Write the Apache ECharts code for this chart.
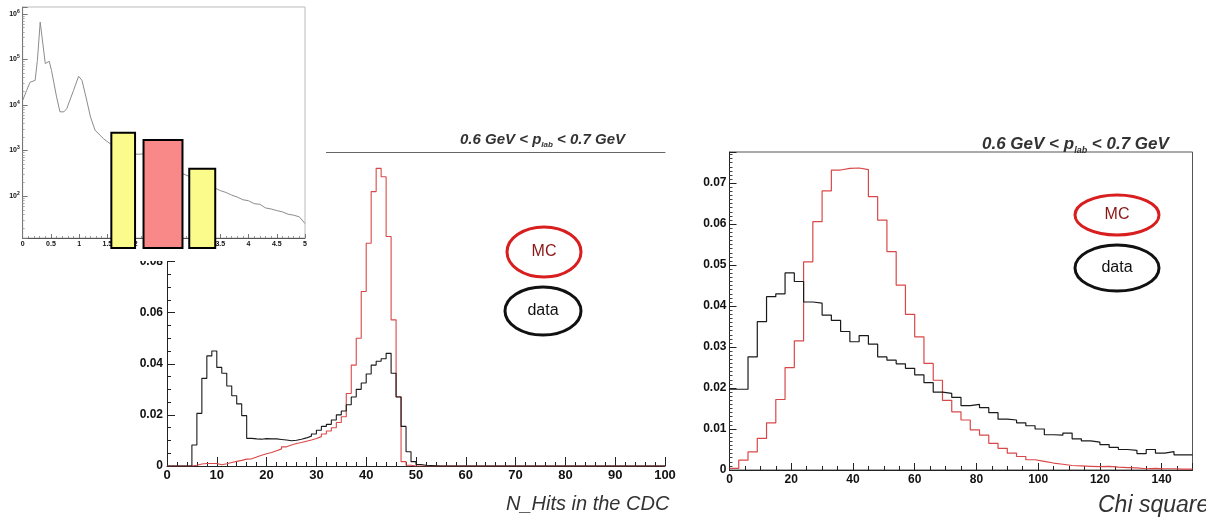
<!DOCTYPE html>
<html><head><meta charset="utf-8">
<script src="https://cdn.jsdelivr.net/npm/echarts@6/dist/echarts.min.js"></script>
<style>html,body{margin:0;padding:0;background:#fff}#c{width:1206px;height:520px}</style>
</head><body><div id="c"></div><script>
// ---------- N_Hits in the CDC (bin width 1, 0..100) ----------
const nhitsBinWidth = 1;
const nhitsTicks = [0,10,20,30,40,50,60,70,80,90,100];
const nhitsData = [0,0,0,0,0,0.0082,0.0206,0.0343,0.0431,0.0450,
  0.0386,0.0363,0.0313,0.0275,0.0243,0.0197,0.0108,0.0106,0.0105,0.0107,
  0.0106,0.0106,0.0104,0.0102,0.0099,0.0101,0.0105,0.0110,0.0117,0.0125,
  0.0140,0.0155,0.0163,0.0180,0.0200,0.0215,0.0240,0.0270,0.0300,0.0325,
  0.0360,0.0395,0.0410,0.0420,0.0441,0.0363,0.0270,0.0155,0.0056,0.0017,
  0.0006,0.0003,0.0002,0.0001,0,0,0,0,0,0,
  0,0,0,0,0,0,0,0,0,0, 0,0,0,0,0,0,0,0,0,0,
  0,0,0,0,0,0,0,0,0,0, 0,0,0,0,0,0,0,0,0,0];
const nhitsMC = [0,0,0,0,0,0.0003,0.0008,0.0010,0.0010,0.0010,
  0.0005,0.0009,0.0014,0.0018,0.0022,0.0027,0.0028,0.0035,0.0042,0.0048,
  0.0053,0.0060,0.0067,0.0075,0.0082,0.0088,0.0092,0.0097,0.0102,0.0108,
  0.0115,0.0125,0.0137,0.0150,0.0170,0.0193,0.0284,0.0395,0.0500,0.0683,
  0.0872,0.1074,0.1165,0.1132,0.0898,0.0572,0.0271,0.0017,0.0003,0,
  0,0,0,0,0,0,0,0,0,0, 0,0,0,0,0,0,0,0,0,0,
  0,0,0,0,0,0,0,0,0,0, 0,0,0,0,0,0,0,0,0,0,
  0,0,0,0,0,0,0,0,0,0];

// ---------- Chi square (bin width 3, 0..150) ----------
const chiBinWidth = 3;
const chiTicks = [0,20,40,60,80,100,120,140];
const chiMC = [0.0004,0.0024,0.0044,0.0077,0.0115,0.0172,0.0250,0.0315,0.0508,0.0606,
  0.0681,0.0732,0.0736,0.0737,0.0733,0.0667,0.0610,0.0533,0.0451,0.0380,
  0.0325,0.0260,0.0219,0.0170,0.0142,0.0122,0.0098,0.0085,0.0065,0.0053,
  0.0041,0.0033,0.0025,0.0021,0.0017,0.0014,0.0011,0.0010,0.0009,0.0008,
  0.0009,0.0007,0.0006,0.0005,0.0003,0.0004,0.0003,0.0003,0.0002,0.0002];
const chiData = [0.0197,0.0197,0.0276,0.0362,0.0423,0.0430,0.0481,0.0460,0.0410,0.0407,
  0.0378,0.0365,0.0338,0.0313,0.0328,0.0307,0.0276,0.0268,0.0259,0.0248,
  0.0232,0.0213,0.0190,0.0187,0.0177,0.0157,0.0160,0.0152,0.0140,0.0124,
  0.0122,0.0115,0.0108,0.0100,0.0086,0.0085,0.0090,0.0076,0.0071,0.0068,
  0.0062,0.0055,0.0050,0.0048,0.0040,0.0050,0.0041,0.0045,0.0037,0.0037];

// ---------- Inset spectrum (log scale) ----------
const insetX = [0,0.07,0.13,0.22,0.26,0.31,0.34,0.40,0.47,0.51,0.60,0.66,0.73,0.78,0.90,0.99,1.05,1.12,1.20,1.28,
  1.43,1.58,1.73,1.91,2.08,2.29,2.44,2.56,2.67,2.82,3.03,3.27,3.4,3.5,3.6,3.7,3.8,3.9,4.0,4.1,
  4.2,4.3,4.4,4.5,4.6,4.7,4.8,4.9,5.0];
const insetY = [12600,20900,31600,34700,95500,661000,603000,81300,91200,57500,15100,7080,7080,8300,20900,42700,34700,15100,5500,2820,
  1820,1320,1020,832,832,891,933,794,437,316,245,174,151,132,120,105,95,83,79,68,
  66,55,52,48,45,40,38,35,25];
const bandX0 = [1.57, 2.14, 2.95];
const bandX1 = [1.99, 2.83, 3.41];
const bandTop = [2450, 1700, 400];
const insetTicks = [0,0.5,1,1.5,2,2.5,3,3.5,4,4.5,5];

function steps(values, width) {
  const pts = values.map((v, i) => [i * width, v]);
  pts.push([values.length * width, values[values.length - 1]]);
  return pts;
}

const FONT = "'Liberation Sans Narrow','Liberation Sans',Arial,sans-serif";
const lab = (size, extra) => Object.assign({fontFamily: FONT, fontWeight: 'bold', fontSize: size, color: '#111'}, extra || {});
const yFmt = v => v === 0 ? '0' : v.toFixed(2);
const insetYMin = 12;

const chart = echarts.init(document.getElementById('c'), null, {renderer: 'canvas'});
function titleRich(size) {
  return {
    a: {fontFamily: "'Liberation Sans',Arial,sans-serif", fontSize: size, fontWeight: 'bold', fontStyle: 'italic', color: '#333', lineHeight: size + 4},
    s: {fontFamily: "'Liberation Sans',Arial,sans-serif", fontSize: Math.round(size * 0.55), fontWeight: 'bold', fontStyle: 'italic', color: '#333', lineHeight: size + 4, padding: [size * 0.75, 0, 0, 0]}
  };
}
const titleText = '{a|0.6 GeV < p}{s|lab}{a| < 0.7 GeV}';
const axisTitleStyle = size => ({fontFamily: "'Liberation Sans',Arial,sans-serif", fontSize: size, fontStyle: 'italic', fontWeight: 'normal', color: '#333'});

chart.setOption({
  animation: false,
  backgroundColor: '#fff',
  title: [
    {text: titleText, left: 460, top: 130, padding: 0, textStyle: {rich: titleRich(15)}},
    {text: titleText, left: 982, top: 134, padding: 0, textStyle: {rich: titleRich(17)}},
    {text: 'N_Hits in the CDC', left: 506, top: 494, padding: 0, textStyle: axisTitleStyle(20)},
    {text: 'Chi square', left: 1098, top: 494, padding: 0, textStyle: axisTitleStyle(23)}
  ],
  grid: [
    {left: 167, top: 152, width: 498, height: 314, show: false},
    {left: 729.5, top: 152, width: 463, height: 318, show: true, borderColor: '#555', borderWidth: 1, backgroundColor: 'transparent'},
    {left: 22.7, top: 7, width: 282.3, height: 231, show: true, borderColor: '#bbb', borderWidth: 1, backgroundColor: '#fff', z: 21}
  ],
  xAxis: [
    {type: 'value', gridIndex: 0, min: 0, max: 100, interval: 10,
     axisLine: {lineStyle: {color: '#222', width: 1}}, splitLine: {show: false},
     axisTick: {inside: true, length: 9, lineStyle: {color: '#222'}},
     minorTick: {show: true, splitNumber: 5, length: 4, lineStyle: {color: '#222'}},
     axisLabel: Object.assign(lab(13), {margin: 3, customValues: nhitsTicks})},
    {type: 'value', gridIndex: 0, min: 0, max: 100, position: 'top',
     axisLine: {show: true, lineStyle: {color: '#666', width: 1}}, axisTick: {show: false}, axisLabel: {show: false}, splitLine: {show: false}},
    {type: 'value', gridIndex: 1, min: 0, max: 150, interval: 20,
     axisLine: {lineStyle: {color: '#222'}}, splitLine: {show: false},
     axisTick: {inside: true, length: 7, lineStyle: {color: '#222'}},
     minorTick: {show: true, splitNumber: 4, length: 4, lineStyle: {color: '#222'}},
     axisLabel: Object.assign(lab(12), {margin: 4, showMaxLabel: false})},
    {type: 'value', gridIndex: 2, min: 0, max: 5, interval: 0.5, z: 22,
     axisLine: {lineStyle: {color: '#555'}}, splitLine: {show: false},
     axisTick: {inside: true, length: 4, lineStyle: {color: '#777'}},
     minorTick: {show: true, splitNumber: 5, length: 2, lineStyle: {color: '#999'}},
     axisLabel: Object.assign(lab(7), {margin: 3})}
  ],
  yAxis: [
    {type: 'value', gridIndex: 0, min: 0, max: 0.1229, interval: 0.02,
     axisLine: {show: true, lineStyle: {color: '#222'}}, splitLine: {show: false},
     axisTick: {show: true, inside: true, length: 8, lineStyle: {color: '#222'}},
     minorTick: {show: true, splitNumber: 4, length: 4, lineStyle: {color: '#222'}},
     axisLabel: Object.assign(lab(12), {margin: 4, formatter: yFmt, showMaxLabel: false})},
    {type: 'value', gridIndex: 1, min: 0, max: 0.0776, interval: 0.01,
     axisLine: {show: true, lineStyle: {color: '#222'}}, splitLine: {show: false},
     axisTick: {show: true, inside: true, length: 7, lineStyle: {color: '#222'}},
     minorTick: {show: true, splitNumber: 10, length: 3, lineStyle: {color: '#444'}},
     axisLabel: Object.assign(lab(12), {margin: 3, formatter: yFmt, showMaxLabel: false})},
    {type: 'log', logBase: 10, gridIndex: 2, min: insetYMin, max: 1.42e6, z: 22,
     axisLine: {show: true, lineStyle: {color: '#777'}}, splitLine: {show: false},
     axisTick: {show: true, inside: true, length: 5, lineStyle: {color: '#777'}},
     minorTick: {show: true, splitNumber: 9, length: 2, lineStyle: {color: '#aaa'}},
     axisLabel: {margin: 3, showMinLabel: false, showMaxLabel: false,
       formatter: v => '{b|10}{s|' + Math.round(Math.log10(v)) + '}',
       rich: {b: lab(7), s: lab(5, {padding: [0, 0, 5, 0]})}}}
  ],
  graphic: {elements: [
    {type: 'rect', shape: {x: 0, y: 0, width: 326, height: 261}, style: {fill: '#fff'}, z: 20, silent: true},
    {type: 'ellipse', shape: {cx: 544, cy: 252, rx: 37, ry: 25}, style: {fill: 'transparent', stroke: '#d81e1e', lineWidth: 3}, z: 30,
     textContent: {style: {text: 'MC', fill: '#8a1515', font: "16px 'Liberation Sans',Arial,sans-serif"}}, textConfig: {position: 'inside'}},
    {type: 'ellipse', shape: {cx: 543, cy: 311, rx: 38, ry: 24}, style: {fill: 'transparent', stroke: '#111', lineWidth: 3}, z: 30,
     textContent: {style: {text: 'data', fill: '#111', font: "16px 'Liberation Sans',Arial,sans-serif"}}, textConfig: {position: 'inside'}},
    {type: 'ellipse', shape: {cx: 1117, cy: 215, rx: 42, ry: 20}, style: {fill: 'transparent', stroke: '#d81e1e', lineWidth: 3}, z: 30,
     textContent: {style: {text: 'MC', fill: '#8a1515', font: "16px 'Liberation Sans',Arial,sans-serif"}}, textConfig: {position: 'inside'}},
    {type: 'ellipse', shape: {cx: 1117, cy: 268, rx: 42, ry: 23}, style: {fill: 'transparent', stroke: '#111', lineWidth: 3}, z: 30,
     textContent: {style: {text: 'data', fill: '#111', font: "16px 'Liberation Sans',Arial,sans-serif"}}, textConfig: {position: 'inside'}}
  ]},
  series: [
    {name: 'MC', type: 'line', xAxisIndex: 0, yAxisIndex: 0, step: 'end', data: steps(nhitsMC, nhitsBinWidth),
     showSymbol: false, symbol: 'none', lineStyle: {color: '#d94848', width: 1.1}, z: 3},
    {name: 'data', type: 'line', xAxisIndex: 0, yAxisIndex: 0, step: 'end', data: steps(nhitsData, nhitsBinWidth),
     showSymbol: false, symbol: 'none', lineStyle: {color: '#1a1a1a', width: 1.1}, z: 4},
    {name: 'MC', type: 'line', xAxisIndex: 2, yAxisIndex: 1, step: 'end', data: steps(chiMC, chiBinWidth),
     showSymbol: false, symbol: 'none', lineStyle: {color: '#d94848', width: 1.2}, z: 3},
    {name: 'data', type: 'line', xAxisIndex: 2, yAxisIndex: 1, step: 'end', data: steps(chiData, chiBinWidth),
     showSymbol: false, symbol: 'none', lineStyle: {color: '#1a1a1a', width: 1.2}, z: 4},
    {name: 'spectrum', type: 'line', xAxisIndex: 3, yAxisIndex: 2, data: insetX.map((x, i) => [x, insetY[i]]),
     showSymbol: false, symbol: 'none', lineStyle: {color: '#8c8c8c', width: 1}, z: 23},
    {name: 'bands', type: 'custom', xAxisIndex: 3, yAxisIndex: 2, z: 24, clip: false,
     encode: {x: [0, 1], y: 2},
     data: bandX0.map((x0, i) => [x0, bandX1[i], bandTop[i]]),
     renderItem: function (params, api) {
       const p0 = api.coord([api.value(0), api.value(2)]);
       const p1 = api.coord([api.value(1), insetYMin]);
       const fills = ['#fbfb8c', '#f98888', '#fbfb8c'];
       return {type: 'rect', shape: {x: p0[0], y: p0[1], width: p1[0] - p0[0], height: p1[1] - p0[1] + 10},
               style: {fill: fills[params.dataIndex], stroke: '#000', lineWidth: 2}};
     }}
  ]
});
</script></body></html>
